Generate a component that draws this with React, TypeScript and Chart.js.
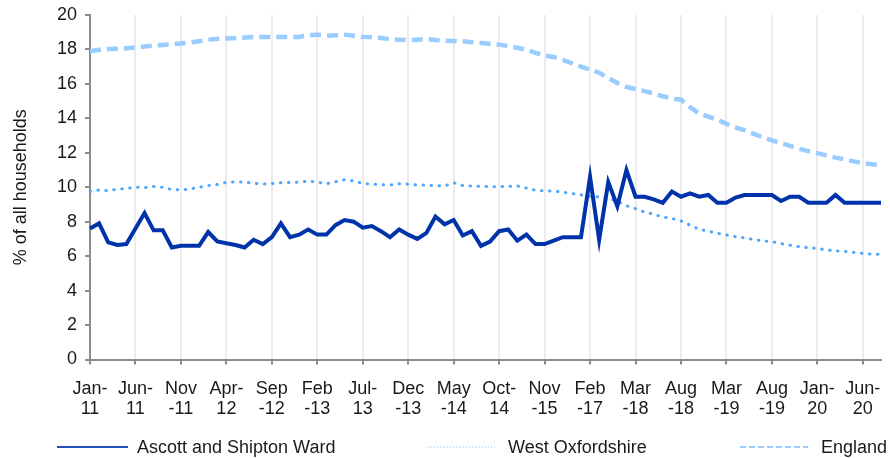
import React, { useEffect, useRef } from "react";
import { Chart, registerables } from "chart.js";

Chart.register(...registerables);

// Tick labels, one every 5 categories (two text lines each)
const tickLabels: string[][] = [
  ["Jan-", "11"], ["Jun-", "11"], ["Nov", "-11"], ["Apr-", "12"], ["Sep", "-12"],
  ["Feb", "-13"], ["Jul-", "13"], ["Dec", "-13"], ["May", "-14"], ["Oct-", "14"],
  ["Nov", "-15"], ["Feb", "-17"], ["Mar", "-18"], ["Aug", "-18"], ["Mar", "-19"],
  ["Aug", "-19"], ["Jan-", "20"], ["Jun-", "20"],
];
const POINTS_PER_TICK = 5;

const seriesNames = ["Ascott and Shipton Ward", "West Oxfordshire", "England"];

const ward = [
  7.6, 7.9, 6.8, 6.65, 6.7, 7.6, 8.5, 7.5, 7.5, 6.5,
  6.6, 6.6, 6.6, 7.4, 6.85, 6.75, 6.65, 6.5, 6.95, 6.7,
  7.1, 7.9, 7.1, 7.25, 7.55, 7.25, 7.25, 7.8, 8.1, 8.0,
  7.65, 7.75, 7.45, 7.1, 7.55, 7.25, 7.0, 7.35, 8.3, 7.85,
  8.1, 7.2, 7.45, 6.6, 6.85, 7.45, 7.55, 6.9, 7.25, 6.7,
  6.7, 6.9, 7.1, 7.1, 7.1, 10.6, 6.95, 10.3, 8.9, 11.0,
  9.45, 9.45, 9.3, 9.1, 9.75, 9.45, 9.65, 9.45, 9.55, 9.1,
  9.1, 9.4, 9.55, 9.55, 9.55, 9.55, 9.2, 9.45, 9.45, 9.1,
  9.1, 9.1, 9.55, 9.1, 9.1, 9.1, 9.1, 9.1,
];

const westOxfordshire = [
  9.75, 9.84, 9.8, 9.88, 9.93, 10.0, 9.98, 10.04, 10.0, 9.86,
  9.85, 9.9, 10.0, 10.1, 10.16, 10.28, 10.32, 10.3, 10.23, 10.18,
  10.22, 10.26, 10.28, 10.3, 10.35, 10.3, 10.2, 10.32, 10.44, 10.36,
  10.22, 10.18, 10.15, 10.13, 10.2, 10.18, 10.13, 10.13, 10.08, 10.08,
  10.26, 10.1, 10.07, 10.06, 10.04, 10.03, 10.05, 10.08, 9.95, 9.83,
  9.79, 9.78, 9.72, 9.63, 9.56, 9.47, 9.44, 9.35, 9.2, 8.93,
  8.75, 8.56, 8.44, 8.27, 8.19, 8.05, 7.8, 7.56, 7.45, 7.33,
  7.23, 7.13, 7.06, 6.96, 6.89, 6.84, 6.73, 6.63, 6.55, 6.49,
  6.45, 6.36, 6.31, 6.28, 6.22, 6.16, 6.12, 6.1,
];

const england = [
  17.9, 17.98, 18.02, 18.04, 18.07, 18.11, 18.17, 18.22, 18.26, 18.3,
  18.34, 18.4, 18.48, 18.57, 18.62, 18.64, 18.66, 18.69, 18.72, 18.73,
  18.73, 18.73, 18.73, 18.73, 18.82, 18.86, 18.8, 18.82, 18.86, 18.8,
  18.73, 18.71, 18.67, 18.6, 18.56, 18.54, 18.57, 18.6, 18.55, 18.5,
  18.49, 18.48, 18.42, 18.37, 18.33, 18.28, 18.2, 18.1, 17.98, 17.8,
  17.65, 17.56, 17.4, 17.2, 17.0, 16.83, 16.65, 16.35, 16.05, 15.82,
  15.7, 15.58, 15.45, 15.28, 15.15, 15.08, 14.65, 14.28, 14.1, 13.92,
  13.68, 13.48, 13.3, 13.1, 12.9, 12.72, 12.57, 12.4, 12.23, 12.1,
  11.98, 11.85, 11.72, 11.62, 11.5, 11.41, 11.33, 11.28,
];

const yMin = 0;
const yMax = 20;
const yStep = 2;
const yTitle = "% of all households";

const FONT = "'Liberation Sans', Arial, Helvetica, sans-serif";
const TEXT = "#1a1a1a";
const AXIS = "#8c8c8c";
const GRID = "#ececec";
const COLORS = ["#0033aa", "#4da6ff", "#99ccff"];

const W = 890;
const H = 458;

export default function App() {
  const ref = useRef<HTMLCanvasElement | null>(null);

  useEffect(() => {
    if (!ref.current) return;
    const categories = ward.map((_, i) =>
      i % POINTS_PER_TICK === 0 ? tickLabels[i / POINTS_PER_TICK] ?? "" : ""
    );
    const isTick = (i: number) => i % POINTS_PER_TICK === 0;
    const chart = new Chart(ref.current, {
      type: "line",
      data: {
        labels: categories,
        datasets: [
          {
            label: seriesNames[0],
            data: ward,
            borderColor: COLORS[0],
            backgroundColor: COLORS[0],
            borderWidth: 4,
            pointRadius: 0,
            tension: 0,
            borderJoinStyle: "miter",
            fill: false,
          },
          {
            label: seriesNames[1],
            data: westOxfordshire,
            borderColor: COLORS[1],
            backgroundColor: COLORS[1],
            borderWidth: 3,
            borderDash: [0.5, 7.5],
            borderCapStyle: "round",
            pointRadius: 0,
            tension: 0,
            fill: false,
          },
          {
            label: seriesNames[2],
            data: england,
            borderColor: COLORS[2],
            backgroundColor: COLORS[2],
            borderWidth: 4.5,
            borderDash: [11, 6],
            pointRadius: 0,
            tension: 0,
            fill: false,
          },
        ],
      },
      options: {
        animation: false,
        responsive: false,
        layout: { padding: { left: 0, right: 9, top: 15, bottom: 0 } },
        plugins: {
          legend: { display: false },
          tooltip: { enabled: false },
          title: { display: false },
        },
        scales: {
          x: {
            type: "category",
            offset: false,
            grid: {
              display: true,
              drawOnChartArea: true,
              color: (ctx: any) => (isTick(ctx.index) && ctx.index > 0 ? GRID : "rgba(0,0,0,0)"),
              lineWidth: 2,
              drawTicks: true,
              tickLength: 5,
              tickColor: (ctx: any) => (isTick(ctx.index) ? AXIS : "rgba(0,0,0,0)"),
              tickWidth: 2,
            },
            border: { display: true, color: AXIS, width: 2 },
            ticks: {
              autoSkip: false,
              maxRotation: 0,
              minRotation: 0,
              padding: 14,
              color: TEXT,
              font: { family: FONT, size: 18, lineHeight: 1.12 },
            },
            afterFit: (scale: any) => {
              scale.height = 98.5;
              scale.paddingLeft = 0;
              scale.paddingRight = 0;
            },
          },
          y: {
            min: yMin,
            max: yMax,
            grid: {
              display: true,
              drawOnChartArea: false,
              drawTicks: true,
              tickLength: 5,
              color: AXIS,
              tickColor: AXIS,
              lineWidth: 2,
              tickWidth: 2,
            },
            border: { display: true, color: AXIS, width: 2 },
            ticks: {
              stepSize: yStep,
              padding: 8,
              color: TEXT,
              font: { family: FONT, size: 18 },
            },
            title: {
              display: true,
              text: yTitle,
              color: TEXT,
              font: { family: FONT, size: 18 },
              padding: { top: 10, bottom: 0 },
            },
            afterFit: (scale: any) => {
              scale.width = 90;
              scale.paddingTop = 0;
              scale.paddingBottom = 0;
            },
          },
        },
      },
    } as any);
    return () => chart.destroy();
  }, []);

  const legendItems = [
    { name: seriesNames[0], color: "#2050b8", dash: "", lineLeft: 57, lineWidth: 71, textLeft: 137 },
    { name: seriesNames[1], color: "#c4e1ff", dash: "1.2 2", lineLeft: 427, lineWidth: 68, textLeft: 508 },
    { name: seriesNames[2], color: "#99ccff", dash: "6 3", lineLeft: 740, lineWidth: 68, textLeft: 821 },
  ];

  return (
    <div style={{ position: "fixed", left: 0, top: 0, width: W, height: H, background: "#fff" }}>
      <canvas ref={ref} width={W} height={H} style={{ display: "block", width: W, height: H }} />
      {legendItems.map((it) => (
        <React.Fragment key={it.name}>
          <svg
            width={it.lineWidth}
            height={4}
            style={{ position: "absolute", left: it.lineLeft, top: 445 }}
          >
            <line
              x1={0}
              y1={2}
              x2={it.lineWidth}
              y2={2}
              stroke={it.color}
              strokeWidth={2}
              strokeDasharray={it.dash || undefined}
            />
          </svg>
          <span
            style={{
              position: "absolute",
              left: it.textLeft,
              top: 437,
              height: 20,
              lineHeight: "20px",
              fontFamily: FONT,
              fontSize: 18,
              color: TEXT,
              whiteSpace: "nowrap",
            }}
          >
            {it.name}
          </span>
        </React.Fragment>
      ))}
    </div>
  );
}
